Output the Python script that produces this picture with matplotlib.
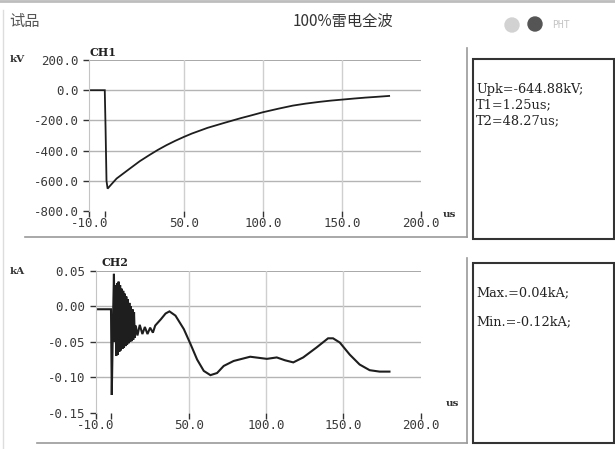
import numpy as np
import matplotlib
matplotlib.use( "Agg" )
import matplotlib.pyplot as plt
from matplotlib.patches import Rectangle, Ellipse
from matplotlib.lines import Line2D

## Data
ch1_t = [ -10.0 , -0.2 , 0.3 , 0.9 , 1.6 , 3.0 , 7.3 , 15.7 , 22.0 , 28.3 , 33.5 , 38.9 , 44.5 , 50.0 , 55.0 , 60.0 , 65.0 , 70.5 , 76.0 , 81.0 , 86.0 , 91.5 , 100.0 , 110.0 , 119.0 , 127.0 , 136.0 , 143.0 , 150.5 , 158.0 , 165.0 , 172.0 , 180.0 ]
ch1_v = [ 0.0 , 0.0 , -250.0 , -600.0 , -652.0 , -635.0 , -585.0 , -519.0 , -470.0 , -428.0 , -395.0 , -364.0 , -335.0 , -309.0 , -287.0 , -268.0 , -249.0 , -232.0 , -215.0 , -200.0 , -185.0 , -170.0 , -146.0 , -122.0 , -102.0 , -89.0 , -77.0 , -69.0 , -62.0 , -55.0 , -49.0 , -44.0 , -38.0 ]

ch2_t = [ -10.0 , -0.3 , 0.2 , 1.0 , 1.6 , 2.1 , 2.6 , 3.1 , 3.6 , 4.1 , 4.6 , 5.1 , 5.6 , 6.1 , 6.6 , 7.1 , 7.6 , 8.1 , 8.6 , 9.1 , 9.6 , 10.1 , 10.6 , 11.1 , 11.6 , 12.1 , 12.6 , 13.1 , 13.6 , 14.1 , 14.6 , 15.1 ,
          15.7 , 16.8 , 18.3 , 20.0 , 21.6 , 23.3 , 25.0 , 26.8 , 28.3 , 32.0 , 35.0 , 37.5 , 41.4 , 46.8 , 51.1 , 55.4 , 59.7 , 64.0 , 68.3 , 72.6 , 79.0 , 89.7 , 100.5 , 106.9 , 112.2 , 117.6 , 124.0 , 132.6 , 140.1 , 143.3 , 147.7 , 154.1 , 160.5 , 167.0 , 173.4 , 179.8 ]
ch2_i = [ -0.004 , -0.004 , -0.125 , -0.020 , 0.046 , -0.050 , 0.030 , -0.070 , 0.033 , -0.068 , 0.035 , -0.064 , 0.030 , -0.062 , 0.025 , -0.060 , 0.022 , -0.058 , 0.018 , -0.056 , 0.014 , -0.054 , 0.010 , -0.052 , 0.005 , -0.050 , 0.000 , -0.049 , -0.004 , -0.047 , -0.008 , -0.044 ,
          -0.027 , -0.041 , -0.026 , -0.039 , -0.029 , -0.039 , -0.030 , -0.037 , -0.027 , -0.018 , -0.010 , -0.007 , -0.013 , -0.032 , -0.053 , -0.075 , -0.091 , -0.097 , -0.094 , -0.084 , -0.077 , -0.071 , -0.074 , -0.072 , -0.076 , -0.079 , -0.072 , -0.058 , -0.045 , -0.045 , -0.051 , -0.068 , -0.082 , -0.090 , -0.092 , -0.092 ]

xticks      = [ -10 , 0 , 50 , 100 , 150 , 200 ]
xticklabels = [ "-10.0" , "" , "50.0" , "100.0" , "150.0" , "200.0" ]
xgrid       = [ 50 , 100 , 150 ]

ch1_yticks      = [ 200 , 0 , -200 , -400 , -600 , -800 ]
ch1_yticklabels = [ "200.0" , "0.0" , "-200.0" , "-400.0" , "-600.0" , "-800.0" ]
ch2_yticks      = [ 0.05 , 0.0 , -0.05 , -0.10 , -0.15 ]
ch2_yticklabels = [ "0.05" , "0.00" , "-0.05" , "-0.10" , "-0.15" ]

ch1_info = [ "Upk=-644.88kV;" , "T1=1.25us;" , "T2=48.27us;" ]
ch2_info = [ "Max.=0.04kA;" , "Min.=-0.12kA;" ]

## Figure helpers (pixel coordinates, origin top-left)
W,H = 615,449
cjk = [ "Noto Sans CJK SC" , "DejaVu Sans" ]

def rect( l , t , r , b ):
	return [ l / W , 1 - b / H , (r - l) / W , (b - t) / H ]

def px( x , y ):
	return x / W , 1 - y / H

def hline( fig , x0 , x1 , y , color = "#999999" , lw = 1.2 ):
	fig.add_artist( Line2D( [x0 / W , x1 / W] , [1 - y / H , 1 - y / H] , transform = fig.transFigure , color = color , lw = lw ) )

def vline( fig , x , y0 , y1 , color = "#999999" , lw = 1.2 ):
	fig.add_artist( Line2D( [x / W , x / W] , [1 - y0 / H , 1 - y1 / H] , transform = fig.transFigure , color = color , lw = lw ) )

def channel( fig , box , t , y , yticks , yticklabels , lw ):
	ax = fig.add_axes( box )
	ax.plot( t , y , color = "#1e1e1e" , linestyle = "-" , lw = lw , solid_joinstyle = "miter" )
	ax.set_xlim( (-10,200) )
	ax.set_ylim( (yticks[-1],yticks[0]) )
	for yg in yticks[:-1]:
		ax.axhline( yg , color = "#9a9a9a" if yg == yticks[0] else "#b4b4b4" , lw = 1.2 if yg == yticks[0] else 1.0 , zorder = 0 )
	for xg in xgrid:
		ax.axvline( xg , color = "#cfcfcf" , lw = 1.0 , zorder = 0 )
	ax.set_xticks( xticks )
	ax.set_xticklabels( xticklabels )
	ax.set_yticks( yticks )
	ax.set_yticklabels( yticklabels )
	for s in ["top","right","bottom"]:
		ax.spines[s].set_visible(False)
	ax.spines["left"].set_color( "#c4c4c4" )
	ax.tick_params( axis = "both" , direction = "out" , length = 4 , width = 1 , color = "#333333" , labelcolor = "#3a3a3a" , labelsize = 9 )
	ax.tick_params( axis = "x" , pad = 0.5 )
	ax.tick_params( axis = "y" , pad = 3.5 )
	for lab in ax.get_xticklabels() + ax.get_yticklabels():
		lab.set_family( "DejaVu Sans Mono" )
	ax.patch.set_alpha(0)
	return ax

fig = plt.figure( figsize = ( W / 100 , H / 100 ) , dpi = 100 )

## Header
hline( fig , 0 , W , 1.2 , color = "#bdbdbd" , lw = 2 )
vline( fig , 3 , 10 , H , color = "#dddddd" , lw = 1 )
fig.text( *px( 9 , 21 ) , "试品" , family = cjk , fontsize = 11 , color = "#555555" , ha = "left" , va = "center" )
fig.text( *px( 343 , 21 ) , "100%雷电全波" , family = cjk , fontsize = 11 , color = "#333333" , ha = "center" , va = "center" )
fig.add_artist( Ellipse( px( 512 , 25 ) , 14 / W , 14 / H , transform = fig.transFigure , color = "#d2d2d2" ) )
fig.add_artist( Ellipse( px( 535 , 24 ) , 14 / W , 14 / H , transform = fig.transFigure , color = "#555555" ) )
fig.text( *px( 552 , 25 ) , "PHT" , fontsize = 7 , color = "#c4c4c4" , ha = "left" , va = "center" , family = "DejaVu Sans Mono" )

## CH1
ax1 = channel( fig , rect( 89.3 , 60 , 420.7 , 211 ) , ch1_t , ch1_v , ch1_yticks , ch1_yticklabels , 1.3 )
fig.text( *px( 10 , 59 ) , "kV" , family = "DejaVu Serif" , weight = "bold" , fontsize = 7.5 , color = "#333333" , va = "center" )
fig.text( *px( 90 , 52 ) , "CH1" , family = "DejaVu Serif" , weight = "bold" , fontsize = 8 , color = "#222222" , va = "center" )
fig.text( *px( 443 , 215 ) , "us" , family = "DejaVu Serif" , weight = "bold" , fontsize = 7.5 , color = "#333333" , va = "center" )
hline( fig , 25 , 467 , 237 )
vline( fig , 467 , 48 , 237 )
fig.add_artist( Rectangle( px( 473 , 239 ) , 141 / W , 180 / H , transform = fig.transFigure , fill = False , edgecolor = "#333333" , lw = 1.5 ) )
for k,s in enumerate(ch1_info):
	fig.text( *px( 476 , 89 + 16 * k ) , s , family = "DejaVu Serif" , fontsize = 9.3 , color = "#222222" , va = "center" )

## CH2
ax2 = channel( fig , rect( 96 , 271 , 420.7 , 412.7 ) , ch2_t , ch2_i , ch2_yticks , ch2_yticklabels , 1.5 )
fig.text( *px( 10 , 272 ) , "kA" , family = "DejaVu Serif" , weight = "bold" , fontsize = 7.5 , color = "#333333" , va = "center" )
fig.text( *px( 102 , 262 ) , "CH2" , family = "DejaVu Serif" , weight = "bold" , fontsize = 8 , color = "#222222" , va = "center" )
fig.text( *px( 446 , 404 ) , "us" , family = "DejaVu Serif" , weight = "bold" , fontsize = 7.5 , color = "#333333" , va = "center" )
hline( fig , 37 , 467 , 443 )
vline( fig , 467 , 258 , 443 )
fig.add_artist( Rectangle( px( 473 , 443 ) , 141 / W , 180 / H , transform = fig.transFigure , fill = False , edgecolor = "#333333" , lw = 1.5 ) )
for k,s in enumerate(ch2_info):
	fig.text( *px( 476 , 293 + 28.5 * k ) , s , family = "DejaVu Serif" , fontsize = 9.3 , color = "#222222" , va = "center" )

fig.savefig( "out.png" , dpi = 100 )
plt.close(fig)
